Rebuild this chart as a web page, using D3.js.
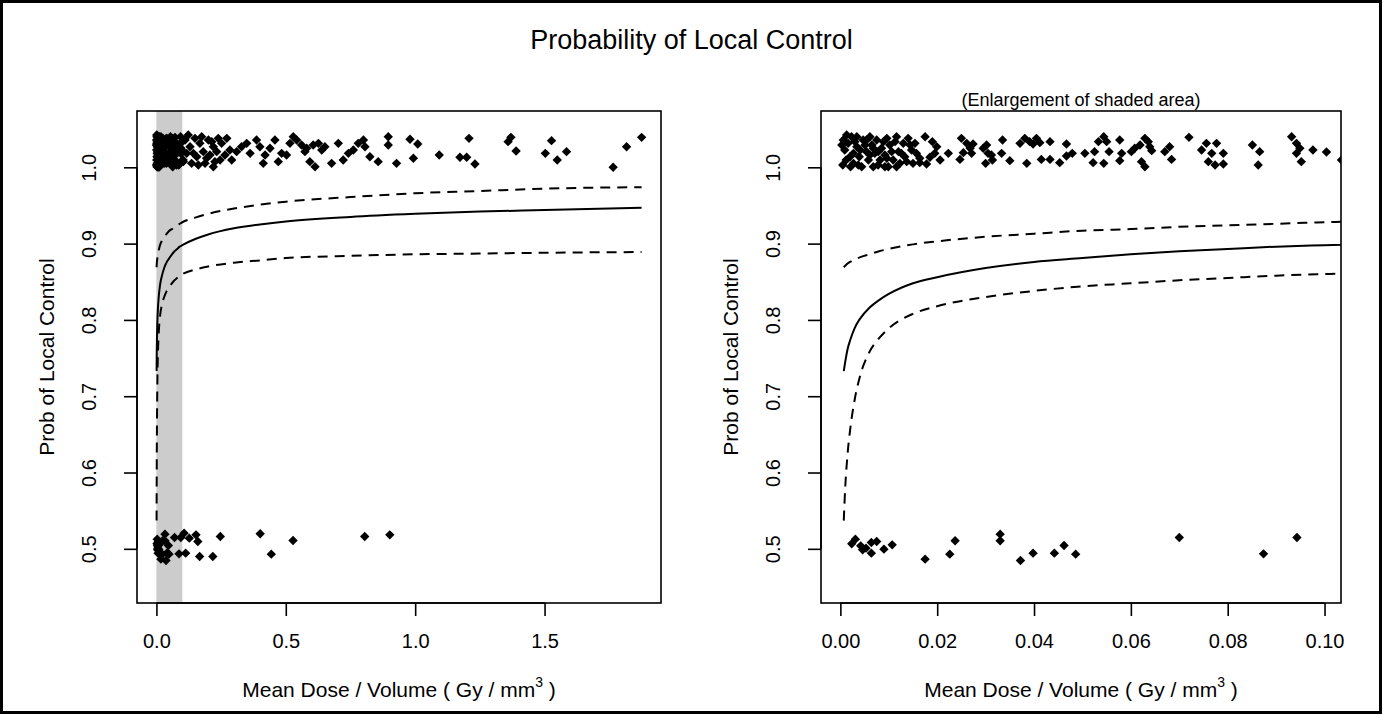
<!DOCTYPE html>
<html>
<head>
<meta charset="utf-8">
<script src="https://cdn.jsdelivr.net/npm/d3@7"></script>
<style>
  body { margin: 0; background: #fff; }
  text { font-family: "Liberation Sans", Arial, sans-serif; fill: #000; }
</style>
</head>
<body>
<svg id="chart" width="1383" height="715"></svg>
<script>
// patients with local control (plotted at 1 + jitter)
var ctrlDose = [
  0.0006,0.0009,0.0012,0.0016,0.0023,0.0027,0.0027,0.0034,0.0039,0.0044,0.0047,0.0054,0.0058,0.0061,0.0065,0.0068,0.0071,0.0075,0.0082,0.0085,
  0.0092,0.0096,0.0099,0.0102,0.0109,0.0116,0.0120,0.0123,0.0130,0.0133,0.0140,0.0147,0.0150,0.0157,0.0164,
  0.0003,0.0005,0.0013,0.0020,0.0021,0.0030,0.0037,0.0041,0.0051,0.0061,0.0068,0.0078,0.0078,0.0089,0.0096,0.0106,0.0113,0.0126,0.0137,0.0144,
  0.0154,0.0116,0.0092,0.0054,0.0034,
  0.0175,0.0190,0.0199,0.0195,0.0185,0.0178,0.0164,0.0206,0.0223,0.0250,0.0261,0.0268,0.0254,0.0271,0.0247,0.0274,0.0295,0.0302,0.0305,0.0312,
  0.0300,0.0314,0.0335,0.0333,0.0350,0.0385,0.0371,0.0381,0.0391,0.0405,0.0412,0.0398,0.0433,0.0467,0.0415,0.0433,0.0453,0.0467,0.0479,
  0.0505,0.0525,0.0522,0.0544,0.0533,0.0544,0.0550,0.0555,0.0577,0.0581,0.0577,0.0601,0.0608,0.0619,0.0629,0.0636,0.0639,0.0643,0.0622,0.0629,
  0.0670,0.0680,0.0684,0.0720,0.0746,0.0756,0.0777,0.0767,0.0760,0.0774,0.0791,0.0791,0.0851,0.0866,0.0863,0.0932,0.0942,0.0949,0.0942,0.0952,
  0.0976,0.1004,0.1035,
  0.111,0.117,0.130,0.136,0.149,0.156,0.168,0.181,0.188,0.201,0.207,0.220,0.226,0.239,0.246,0.233,
  0.104,0.123,0.143,0.162,0.175,0.194,0.214,0.220,
  0.252,0.272,0.284,0.265,0.291,0.310,0.329,0.349,0.362,0.387,0.400,0.413,0.420,0.439,0.458,0.471,0.484,0.503,0.516,0.529,
  0.542,0.561,0.574,0.581,0.593,0.606,0.613,0.626,0.639,0.651,0.677,0.703,0.722,0.742,0.761,0.780,0.800,0.806,0.825,0.857,
  0.896,0.896,0.928,
  0.980,1.010,0.993,1.093,1.208,1.173,1.199,1.231,1.370,1.359,1.390,1.527,1.503,1.549,1.585,1.765,1.817,1.875
];
var ctrlProb = [
  1.0358,1.0227,1.0096,1.0314,1.0401,1.0183,1.0052,1.0270,1.0139,1.0008,1.0358,1.0205,1.0096,1.0401,1.0292,1.0008,1.0183,1.0358,1.0096,1.0249,
  1.0161,1.0380,1.0008,1.0292,1.0096,1.0401,1.0205,1.0052,1.0314,1.0139,1.0380,1.0227,1.0052,1.0183,1.0118,
  1.0292,1.0030,1.0423,1.0139,1.0008,1.0336,1.0030,1.0227,1.0292,1.0161,1.0249,1.0205,1.0030,1.0336,1.0118,1.0205,1.0336,1.0183,1.0074,1.0292,
  1.0314,1.0008,1.0008,1.0358,1.0401,
  1.0401,1.0336,1.0270,1.0183,1.0131,1.0043,1.0061,1.0096,1.0183,1.0380,1.0314,1.0249,1.0192,1.0183,1.0104,1.0305,1.0249,1.0292,1.0183,1.0161,
  1.0052,1.0096,1.0358,1.0183,1.0087,1.0052,1.0314,1.0380,1.0336,1.0380,1.0323,1.0305,1.0336,1.0305,1.0104,1.0104,1.0061,1.0148,1.0183,
  1.0183,1.0205,1.0061,1.0052,1.0336,1.0401,1.0336,1.0205,1.0358,1.0183,1.0087,1.0205,1.0249,1.0292,1.0380,1.0336,1.0270,1.0218,1.0074,1.0008,
  1.0205,1.0270,1.0104,1.0393,1.0227,1.0314,1.0314,1.0183,1.0074,1.0030,1.0183,1.0043,1.0292,1.0205,1.0030,1.0401,1.0314,1.0249,1.0183,1.0074,
  1.0227,1.0201,1.0096,
  1.0358,1.0183,1.0270,1.0052,1.0380,1.0139,1.0314,1.0205,1.0052,1.0358,1.0161,1.0270,1.0074,1.0380,1.0096,1.0205,
  1.0074,1.0423,1.0183,1.0030,1.0401,1.0118,1.0336,1.0008,
  1.0314,1.0380,1.0227,1.0161,1.0096,1.0205,1.0270,1.0314,1.0183,1.0358,1.0270,1.0052,1.0161,1.0249,1.0358,1.0074,1.0183,1.0161,1.0314,1.0401,
  1.0358,1.0292,1.0205,1.0249,1.0074,1.0292,1.0008,1.0314,1.0227,1.0270,1.0052,1.0314,1.0096,1.0183,1.0227,1.0314,1.0358,1.0270,1.0139,1.0074,
  1.0401,1.0292,1.0052,
  1.0367,1.0305,1.0118,1.0161,1.0380,1.0131,1.0131,1.0043,1.0393,1.0336,1.0214,1.0349,1.0183,1.0096,1.0205,1.0000,1.0270,1.0393
];

// patients with local failure (plotted at 0.5 + jitter)
var failDose = [
  0.00235,0.0031,0.0042,0.0046,0.0053,0.0064,0.0064,0.0075,0.0090,0.0107,0.0175,0.0226,0.0237,0.0330,0.0330,0.0372,0.0398,0.0442,0.0462,0.0486,
  0.0700,0.0874,0.0943,
  0.107,0.113,0.127,0.153,0.160,0.167,0.218,0.247,0.401,0.444,0.528,0.805,0.902
];
var failProb = [
  0.5066,0.5127,0.5039,0.4987,0.5009,0.4943,0.5083,0.5096,0.4996,0.5052,0.4865,0.4930,0.5105,0.5192,0.5105,0.4847,0.4943,0.4943,0.5044,0.4930,
  0.5149,0.4934,0.5149,
  0.5205,0.4943,0.5140,0.5183,0.5096,0.4900,0.4900,0.5162,0.5197,0.4930,0.5109,0.5162,0.5183
];

// fitted probability and confidence band
var curveDose = [0.0007,0.001,0.0015,0.002,0.003,0.004,0.006,0.008,0.01,0.015,0.02,0.03,0.04,0.05,0.06,0.07,0.08,0.09,0.1,
                 0.15,0.2,0.3,0.4,0.5,0.75,1.0,1.25,1.5,1.875];
var fitProb   = [0.733,0.745,0.762,0.773,0.790,0.801,0.816,0.826,0.834,0.848,0.856,0.868,0.876,0.881,0.886,0.890,0.893,0.896,0.898,
                 0.906,0.912,0.920,0.925,0.929,0.935,0.939,0.942,0.944,0.947];
var upperProb = [0.869,0.871,0.874,0.876,0.879,0.882,0.886,0.890,0.893,0.899,0.903,0.909,0.913,0.917,0.919,0.922,0.924,0.926,0.928,
                 0.934,0.939,0.946,0.951,0.955,0.961,0.966,0.969,0.972,0.974];
var lowerProb = [0.537,0.580,0.625,0.655,0.697,0.725,0.758,0.776,0.789,0.808,0.818,0.830,0.838,0.844,0.848,0.852,0.855,0.858,0.860,
                 0.866,0.870,0.875,0.878,0.881,0.884,0.886,0.887,0.888,0.889];

var yTicks = [0.5, 0.6, 0.7, 0.8, 0.9, 1.0];
var leftTicks = [0, 0.5, 1.0, 1.5];
var rightTicks = [0, 0.02, 0.04, 0.06, 0.08, 0.10];
var shadeRange = [0, 0.1];

var svg = d3.select("#chart");
var FS = 20;

// outer frame
svg.append("rect").attr("x", 1.5).attr("y", 1.5).attr("width", 1379).attr("height", 711)
   .attr("fill", "none").attr("stroke", "#000").attr("stroke-width", 3);

svg.append("text").attr("x", 691.5).attr("y", 40).attr("dy", "0.35em")
   .attr("text-anchor", "middle").style("font-size", "27px")
   .text("Probability of Local Control");

var ctrlPts = ctrlDose.map(function(d, i){ return {x: d, y: ctrlProb[i]}; });
var failPts = failDose.map(function(d, i){ return {x: d, y: failProb[i]}; });
var pts = ctrlPts.concat(failPts);

function drawPanel(opt) {
    var top = 111, bottom = 603;
    var x = d3.scaleLinear().domain(opt.xDomain).range([opt.left, opt.right]);
    var y = d3.scaleLinear().domain([0.429, 1.0738]).range([bottom, top]);
    var g = svg.append("g");

    g.append("clipPath").attr("id", opt.id + "clip")
      .append("rect").attr("x", opt.left).attr("y", top)
      .attr("width", opt.right - opt.left).attr("height", bottom - top);

    var plot = g.append("g").attr("clip-path", "url(#" + opt.id + "clip)");

    if (opt.shade) {
        plot.append("rect")
            .attr("x", x(shadeRange[0])).attr("y", top)
            .attr("width", x(shadeRange[1]) - x(shadeRange[0]))
            .attr("height", bottom - top)
            .attr("fill", "#cccccc");
    }

    var diamond = d3.symbol().type(d3.symbolSquare).size(44);
    plot.selectAll("path.pt")
        .data(pts)
        .enter().append("path")
        .attr("class", "pt")
        .attr("d", diamond)
        .attr("transform", function(d){ return "translate(" + x(d.x) + "," + y(d.y) + ") rotate(45)"; })
        .attr("fill", "#000");

    function curve(vals) {
        return d3.line()
            .x(function(d, i){ return x(curveDose[i]); })
            .y(function(d){ return y(d); })
            .curve(d3.curveMonotoneX)(vals);
    }
    plot.append("path").attr("d", curve(fitProb))
        .attr("fill", "none").attr("stroke", "#000").attr("stroke-width", 2);
    [upperProb, lowerProb].forEach(function(band){
        plot.append("path").attr("d", curve(band))
            .attr("fill", "none").attr("stroke", "#000").attr("stroke-width", 2)
            .attr("stroke-dasharray", "10,7");
    });

    g.append("rect").attr("x", opt.left).attr("y", top)
     .attr("width", opt.right - opt.left).attr("height", bottom - top)
     .attr("fill", "none").attr("stroke", "#000").attr("stroke-width", 1.6);

    // x axis
    var xa = g.append("g").attr("transform", "translate(0," + bottom + ")")
        .call(d3.axisBottom(x).tickValues(opt.ticks).tickFormat(opt.fmt).tickSize(13).tickSizeOuter(0));
    xa.select(".domain").attr("d", "M" + x(opt.ticks[0]) + ",0H" + x(opt.ticks[opt.ticks.length - 1]));
    xa.selectAll("line, path").attr("stroke", "#000").attr("stroke-width", 1.6);
    xa.selectAll("text").attr("y", 38).attr("dy", "0.35em")
      .style("font-size", FS + "px").style("font-family", null).attr("fill", "#000");

    // y axis
    var ya = g.append("g").attr("transform", "translate(" + opt.left + ",0)")
        .call(d3.axisLeft(y).tickValues(yTicks).tickFormat(d3.format(".1f")).tickSize(13).tickSizeOuter(0));
    ya.select(".domain").attr("d", "M0," + y(yTicks[0]) + "V" + y(yTicks[yTicks.length - 1]));
    ya.selectAll("line, path").attr("stroke", "#000").attr("stroke-width", 1.6);
    ya.selectAll("text").attr("x", 0).attr("y", 0).attr("dy", "0.35em")
      .attr("text-anchor", "middle")
      .attr("transform", "translate(-48,0) rotate(-90)")
      .style("font-size", FS + "px").style("font-family", null).attr("fill", "#000");

    // axis titles
    var cx = (opt.left + opt.right) / 2;
    var xt = g.append("text").attr("x", cx).attr("y", 690).attr("dy", "0.35em")
        .attr("text-anchor", "middle").style("font-size", "21px");
    xt.append("tspan").text("Mean Dose / Volume ( Gy / mm");
    xt.append("tspan").attr("dy", "-10").style("font-size", "14px").text("3");
    xt.append("tspan").attr("dy", "10").text(" )");

    g.append("text")
     .attr("transform", "translate(" + (opt.left - 90) + "," + ((top + bottom) / 2) + ") rotate(-90)")
     .attr("dy", "0.35em").attr("text-anchor", "middle").style("font-size", "21px")
     .text("Prob of Local Control");

    if (opt.sub) {
        g.append("text").attr("x", cx).attr("y", 100).attr("dy", "0.35em")
         .attr("text-anchor", "middle").style("font-size", "18px").text(opt.sub);
    }
}

drawPanel({id: "left", left: 137, right: 661, xDomain: [-0.075, 1.95],
           ticks: leftTicks, fmt: d3.format(".1f"), shade: true});
drawPanel({id: "right", left: 821, right: 1341, xDomain: [-0.004, 0.1034],
           ticks: rightTicks, fmt: d3.format(".2f"), shade: false,
           sub: "(Enlargement of shaded area)"});
</script>
</body>
</html>
